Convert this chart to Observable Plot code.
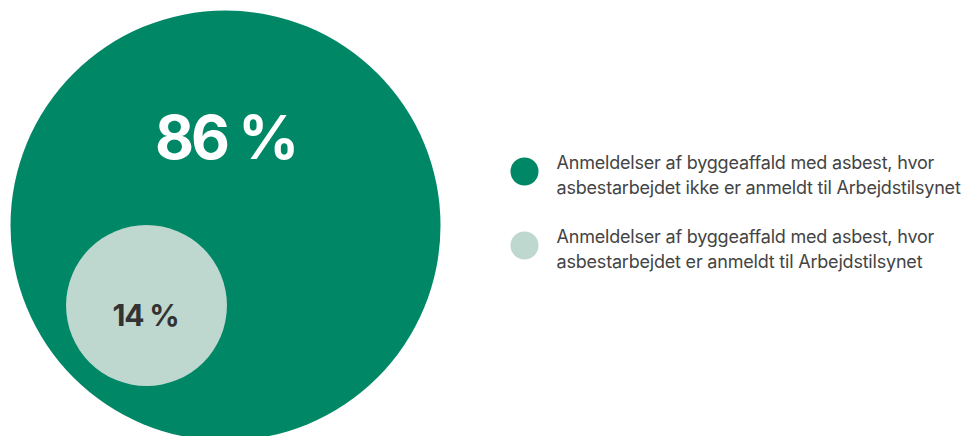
<!DOCTYPE html>
<html>
<head>
<meta charset="utf-8">
<script src="https://cdn.jsdelivr.net/npm/d3@7"></script>
<script src="https://cdn.jsdelivr.net/npm/@observablehq/plot@0.6"></script>
<style>
  html, body { margin: 0; padding: 0; background: #fff; }
  #chart svg { display: block; }
  .big-label text { letter-spacing: -3px; }
  .small-label text { letter-spacing: -1.2px; }
  .legend-label text { letter-spacing: -0.2px; }
</style>
</head>
<body>
<div id="chart"></div>
<script>
// Data
const categories = [
  "Anmeldelser af byggeaffald med asbest, hvor\nasbestarbejdet ikke er anmeldt til Arbejdstilsynet",
  "Anmeldelser af byggeaffald med asbest, hvor\nasbestarbejdet er anmeldt til Arbejdstilsynet"
];
const values = [86, 14];
const valueLabels = ["86 %", "14 %"];
const colors = ["#008766", "#bfd8cf"];

const total = d3.sum(values);

// Circles: outer = whole (100 %), inner = share of 14 %
const circles = [
  {key: "outer", size: total, cx: 225, cy: 225, color: colors[0]},
  {key: "inner", size: values[1], cx: 146, cy: 305, color: colors[1]}
];
const bigLabel = [{text: valueLabels[0], x: 225, y: 139}];
const smallLabel = [{text: valueLabels[1], x: 145, y: 316}];
const legend = categories.map((c, i) => ({label: c, color: colors[i], x: 524, y: 171 + i * 74}));

const chart = Plot.plot({
  width: 970,
  height: 436,
  margin: 0,
  x: {domain: [0, 970], range: [0, 970], axis: null},
  y: {domain: [0, 436], range: [0, 436], axis: null},
  r: {type: "sqrt", domain: [0, total], range: [0, 215]},
  style: {fontFamily: "Inter, sans-serif", background: "#fff", overflow: "hidden"},
  marks: [
    Plot.dot(circles, {x: "cx", y: "cy", r: "size", fill: "color", stroke: null}),
    Plot.text(bigLabel, {x: "x", y: "y", text: "text", fill: "#ffffff", fontSize: 60, fontWeight: 700, textAnchor: "middle", className: "big-label"}),
    Plot.text(smallLabel, {x: "x", y: "y", text: "text", fill: "#333333", fontSize: 30, fontWeight: 700, textAnchor: "middle", className: "small-label"}),
    Plot.dot(legend, {x: "x", y: "y", r: 14, fill: "color", stroke: null}),
    Plot.text(legend, {x: 556, y: d => d.y - 21, text: "label", fill: "#444444", fontSize: 18, lineHeight: 1.42, lineAnchor: "top", textAnchor: "start", className: "legend-label"})
  ]
});
document.getElementById("chart").append(chart);
</script>
</body>
</html>
